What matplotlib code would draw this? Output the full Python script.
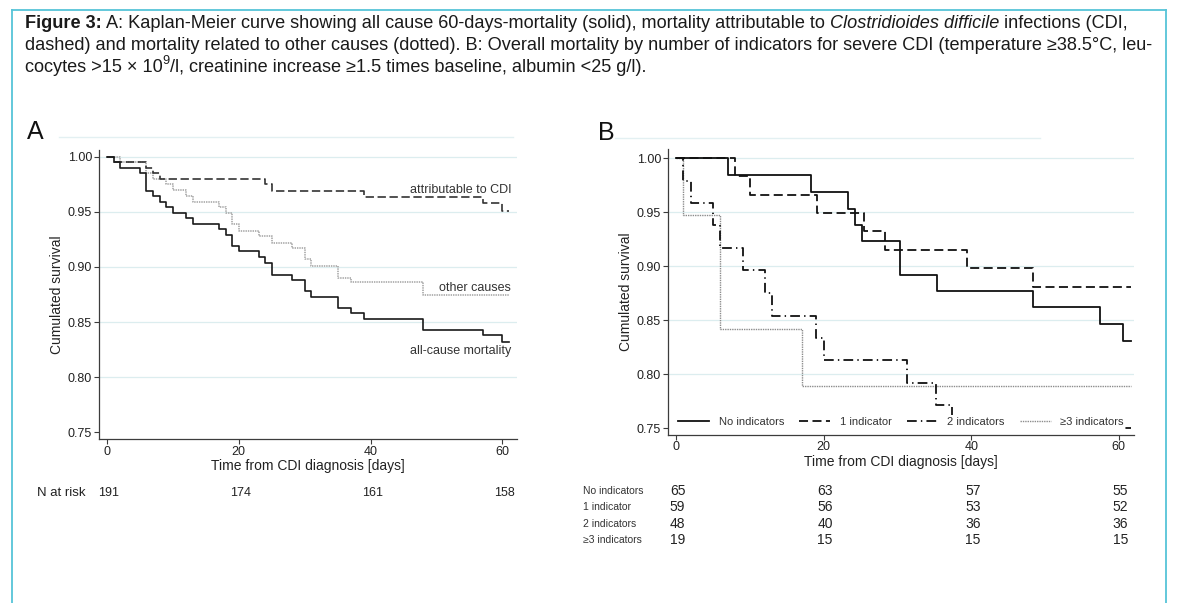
import matplotlib
matplotlib.use("Agg")
import matplotlib.pyplot as plt
import matplotlib.transforms as mtransforms
from matplotlib.lines import Line2D

plt.rcParams['font.family'] = ['Liberation Sans', 'DejaVu Sans']
plt.rcParams['lines.scale_dashes'] = False

# ---- panel A: Kaplan-Meier ----
end_a = 61
t_all = [0, 1, 2, 5, 6, 7, 8, 9, 10, 12, 13, 17, 18, 19, 20, 23, 24, 25, 28, 30, 31, 35, 37, 39, 48, 57, 60]
s_all = [1.000, 0.995, 0.990, 0.985, 0.969, 0.964, 0.959, 0.954, 0.949, 0.944, 0.939, 0.934, 0.929,
         0.919, 0.914, 0.909, 0.904, 0.893, 0.888, 0.878, 0.873, 0.863, 0.858, 0.853, 0.843, 0.838, 0.832]
t_cdi = [0, 1, 6, 7, 8, 24, 25, 39, 57, 60]
s_cdi = [1.000, 0.995, 0.990, 0.985, 0.980, 0.975, 0.969, 0.963, 0.958, 0.951]
t_other = [0, 2, 6, 7, 9, 10, 12, 13, 17, 18, 19, 20, 23, 25, 28, 30, 31, 35, 37, 48]
s_other = [1.000, 0.995, 0.985, 0.980, 0.975, 0.970, 0.964, 0.959, 0.954, 0.949, 0.939, 0.933,
           0.928, 0.922, 0.917, 0.907, 0.901, 0.890, 0.886, 0.875]
risk_times = [0, 20, 40, 60]
risk_a = [191, 174, 161, 158]

# ---- panel B: by number of severity indicators ----
end_b = 61.6
t_no = [0, 7, 18.3, 23.3, 24.2, 25.2, 30.3, 35.3, 48.4, 57.5, 60.5]
s_no = [1.000, 0.984, 0.969, 0.953, 0.938, 0.923, 0.892, 0.877, 0.862, 0.846, 0.831]
t_one = [0, 8, 10, 19.1, 25.5, 28.3, 39.4, 48.4]
s_one = [1.000, 0.983, 0.966, 0.949, 0.932, 0.915, 0.898, 0.881]
t_two = [0, 1, 2, 5, 6, 9, 12, 13, 19, 20, 31.3, 35.2, 37.4]
s_two = [1.000, 0.979, 0.958, 0.938, 0.917, 0.896, 0.875, 0.854, 0.833, 0.813, 0.792, 0.771, 0.750]
t_three = [0, 1, 6, 17.1]
s_three = [1.000, 0.947, 0.842, 0.789]
group_labels = ['No indicators', '1 indicator', '2 indicators', '\u22653 indicators']
risk_b = [[65, 63, 57, 55], [59, 56, 53, 52], [48, 40, 36, 36], [19, 15, 15, 15]]

W, H = 1178, 603
fig = plt.figure(figsize=(W / 100, H / 100), dpi=100)


def fx(px):
    return px / W


def fy(py):
    return 1 - py / H


def km(ax, t, s, end, **kw):
    ax.step(list(t) + [end], list(s) + [s[-1]], where='post', **kw)


def style(ax, ylim):
    for side in ['top', 'right']:
        ax.spines[side].set_visible(False)
    for side in ['left', 'bottom']:
        ax.spines[side].set_color('#3c3c3c')
        ax.spines[side].set_linewidth(0.9)
    ax.set_xlim(-1.2, 62.2)
    ax.set_ylim(*ylim)
    ax.set_xticks(risk_times)
    ax.set_yticks([0.75, 0.80, 0.85, 0.90, 0.95, 1.00])
    ax.set_yticklabels(['%.2f' % v for v in ax.get_yticks()])
    ax.tick_params(direction='out', length=3.5, width=0.8, color='#3c3c3c',
                   labelsize=9, labelcolor='#222222', pad=1.5)
    for v in [0.80, 0.85, 0.90, 0.95, 1.00]:
        ax.axhline(v, color='#dcedef', lw=0.9, zorder=0)
    ax.set_xlabel('Time from CDI diagnosis [days]', fontsize=10, labelpad=1, color='#222222')
    ax.set_ylabel('Cumulated survival', fontsize=10, labelpad=3, color='#222222')


# ---------------- panel A ----------------
axA = fig.add_axes([fx(99), fy(439), (517 - 99) / W, (439 - 150) / H])
style(axA, (0.744, 1.006))
km(axA, t_other, s_other, end_a, color='#a0a0a0', lw=1.1, ls=(0, (1, 0.7)))
km(axA, t_cdi, s_cdi, end_a, color='#333333', lw=1.2, ls=(0, (6, 2.6)))
km(axA, t_all, s_all, end_a, color='#1a1a1a', lw=1.2)
axA.text(61.3, s_cdi[-1] + 0.019, 'attributable to CDI', ha='right', va='center', fontsize=9, color='#333333')
axA.text(61.3, s_other[-1] + 0.006, 'other causes', ha='right', va='center', fontsize=9, color='#333333')
axA.text(61.3, s_all[-1] - 0.008, 'all-cause mortality', ha='right', va='center', fontsize=9, color='#333333')

trA = mtransforms.blended_transform_factory(axA.transData, fig.transFigure)
fig.text(fx(37), fy(493), 'N at risk', ha='left', va='center', fontsize=9.5, color='#222222')
for t, n in zip(risk_times, risk_a):
    fig.text(t + 0.3, fy(493), str(n), ha='center', va='center', fontsize=9,
             color='#222222', transform=trA)

# ---------------- panel B ----------------
axB = fig.add_axes([fx(668), fy(434.5), (1134 - 668) / W, (434.5 - 149.4) / H])
style(axB, (0.744, 1.008))
axB.set_xlim(-1.1, 62.05)
st_no = dict(color='#111111', lw=1.3)
st_one = dict(color='#111111', lw=1.3, ls=(0, (6.5, 3.2)))
st_two = dict(color='#111111', lw=1.3, ls=(0, (7, 3, 1, 3)))
st_three = dict(color='#8c8c8c', lw=1.0, ls=(0, (1, 0.7)))
km(axB, t_three, s_three, end_b, **st_three)
km(axB, t_two, s_two, end_b, **st_two)
km(axB, t_one, s_one, end_b, **st_one)
km(axB, t_no, s_no, end_b, **st_no)
handles = [Line2D([], [], **st_no), Line2D([], [], **st_one),
           Line2D([], [], **st_two), Line2D([], [], **st_three)]
leg = axB.legend(handles, group_labels, loc='center', bbox_to_anchor=(0.5, 0.044), ncol=4,
                 frameon=True, facecolor='white', edgecolor='none', framealpha=1, fontsize=8,
                 handlelength=2.8, handletextpad=0.85, columnspacing=1.35, borderpad=0.15,
                 borderaxespad=0)
leg.set_zorder(5)
for txt in leg.get_texts():
    txt.set_color('#333333')

trB = mtransforms.blended_transform_factory(axB.transData, fig.transFigure)
for i, (lab, row) in enumerate(zip(group_labels, risk_b)):
    y = 491 + i * 16.4
    fig.text(fx(583), fy(y), lab, ha='left', va='center', fontsize=7.5, color='#333333')
    for t, n in zip(risk_times, row):
        fig.text(t + 0.2, fy(y), str(n), ha='center', va='center', fontsize=10,
                 color='#222222', transform=trB)

# panel letters and faint header rules
fig.text(fx(27), fy(139), 'A', fontsize=18, va='baseline', color='#111111')
fig.text(fx(598), fy(140), 'B', fontsize=18, va='baseline', color='#111111')
fig.add_artist(Line2D([fx(59), fx(513)], [fy(137), fy(137)], color='#e3f0f2', lw=1))
fig.add_artist(Line2D([fx(615), fx(1040)], [fy(138), fy(138)], color='#e3f0f2', lw=1))

# ---------------- caption ----------------
renderer = fig.canvas.get_renderer()


def text_runs(x0, y0, parts, size=13.1):
    x = x0
    for s, kind in parts:
        kw = dict(fontsize=size, va='baseline', ha='left', color='#1a1a1a')
        dy = 0
        if kind == 'b':
            kw['fontweight'] = 'bold'
        elif kind == 'i':
            kw['fontstyle'] = 'italic'
        elif kind == 'sup':
            kw['fontsize'] = size * 0.7
            dy = -size * 0.45 * 100 / 72
        t = fig.text(fx(x), fy(y0 + dy), s, **kw)
        x += t.get_window_extent(renderer).width


text_runs(25, 28, [('Figure 3:', 'b'),
                   (' A: Kaplan-Meier curve showing all cause 60-days-mortality (solid), mortality attributable to', ''),
                   (' Clostridioides difficile', 'i'),
                   (' infections (CDI,', '')])
text_runs(25, 50, [('dashed) and mortality related to other causes (dotted). B: Overall mortality by number of '
                    'indicators for severe CDI (temperature \u226538.5\u00b0C, leu-', '')])
text_runs(25, 72, [('cocytes >15 \u00d7 10', ''), ('9', 'sup'),
                   ('/l, creatinine increase \u22651.5 times baseline, albumin <25 g/l).', '')])

# frame round the figure
border = '#56c4d8'
fig.add_artist(Line2D([fx(12), fx(1166)], [fy(10), fy(10)], color=border, lw=1.3))
fig.add_artist(Line2D([fx(12), fx(12)], [fy(10), 0], color=border, lw=1.3))
fig.add_artist(Line2D([fx(1166), fx(1166)], [fy(10), 0], color=border, lw=1.3))

fig.savefig('out.png', dpi=100, facecolor='white')
